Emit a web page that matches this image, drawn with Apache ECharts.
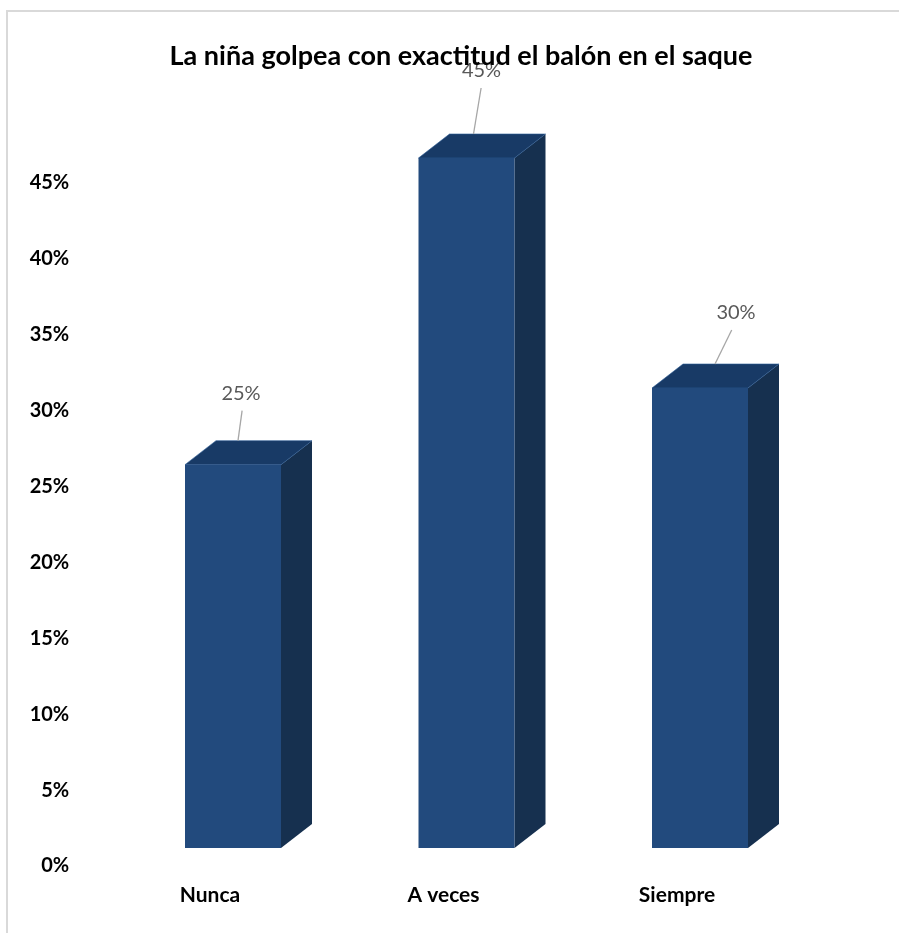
<!DOCTYPE html>
<html><head><meta charset="utf-8">
<script src="https://cdn.jsdelivr.net/npm/echarts@6/dist/echarts.min.js"></script>
<style>html,body{margin:0;padding:0;background:#fff}#c{width:899px;height:933px}</style>
</head><body><div id="c"></div>
<script>
const categories = ['Nunca', 'A veces', 'Siempre'];
const values = [25, 45, 30];
const valueLabels = ['25%', '45%', '30%'];
const yTicks = [0, 5, 10, 15, 20, 25, 30, 35, 40, 45];

// style constants (pixel offsets for the 3D look and label leaders)
const BAR_SHIFT = 23, HALF_W = 48, DEPTH_X = 31, DEPTH_Y = 24;
const leaderNudge = [[53, 3, -47], [55, 8, -63], [63, 21, -51]]; // [lineX from front-left, label dx, label dy]

const chart = echarts.init(document.getElementById('c'));
const FONT = 'Lato';
chart.setOption({
  backgroundColor: '#fff',
  animation: false,
  title: {
    text: 'La niña golpea con exactitud el balón en el saque',
    left: 456, top: 38, textAlign: 'center',
    textStyle: { fontFamily: FONT, fontWeight: 'bold', fontSize: 27, color: '#000' }
  },
  grid: { left: 93.25, right: 105.25, top: 183, bottom: 67 },
  xAxis: {
    type: 'category', data: categories,
    axisLine: { show: false }, axisTick: { show: false },
    axisLabel: { margin: 19, fontFamily: FONT, fontWeight: 'bold', fontSize: 21, color: '#000' }
  },
  yAxis: [{
    type: 'value', min: 0, max: 45, interval: 5,
    splitLine: { show: false }, axisLine: { show: false }, axisTick: { show: false },
    axisLabel: { margin: 24, fontFamily: FONT, fontWeight: 'bold', fontSize: 20, color: '#000',
      formatter: v => yTicks.includes(v) ? v + '%' : '' }
  }, {
    type: 'value', min: -1.1739, max: 43.3696, show: false,
    splitLine: { show: false }
  }],
  graphic: [{
    type: 'rect', shape: { x: 7, y: 11, width: 1000, height: 1000 },
    style: { fill: 'none', stroke: '#d9d9d9', lineWidth: 2 }, silent: true, z: -1
  }],
  series: [{
    type: 'custom',
    yAxisIndex: 1,
    data: values.map((v, i) => [i, v]),
    renderItem: function (params, api) {
      const i = api.value(0), v = api.value(1);
      const b = api.coord([i, 0]), t = api.coord([i, v]);
      const cx = b[0] + BAR_SHIFT;
      const x0 = cx - HALF_W, x1 = cx + HALF_W, yb = b[1], yt = t[1];
      const n = leaderNudge[params.dataIndex];
      const lx = x0 + n[0], ly = yt - DEPTH_Y;
      return {
        type: 'group',
        children: [
          { type: 'polygon', shape: { points: [[x1, yb], [x1 + DEPTH_X, yb - DEPTH_Y], [x1 + DEPTH_X, yt - DEPTH_Y], [x1, yt]] },
            style: { fill: '#16304F' } },
          { type: 'polygon', shape: { points: [[x0, yt], [x0 + DEPTH_X, yt - DEPTH_Y], [x1 + DEPTH_X, yt - DEPTH_Y], [x1, yt]] },
            style: { fill: '#183A66', stroke: '#2a5a94', lineWidth: 0.6 } },
          { type: 'rect', shape: { x: x0, y: yt, width: x1 - x0, height: yb - yt },
            style: { fill: '#224A7D' } },
          { type: 'line', shape: { x1: lx, y1: ly, x2: lx + n[1] * 0.7 + 2, y2: ly + n[2] + 17 },
            style: { stroke: '#a6a6a6', lineWidth: 1.3 } },
          { type: 'text', x: lx + n[1], y: ly + n[2],
            style: { text: valueLabels[params.dataIndex], fontFamily: FONT, fontSize: 20, fill: '#595959',
              align: 'center', verticalAlign: 'middle' } }
        ]
      };
    }
  }]
});
</script></body></html>
